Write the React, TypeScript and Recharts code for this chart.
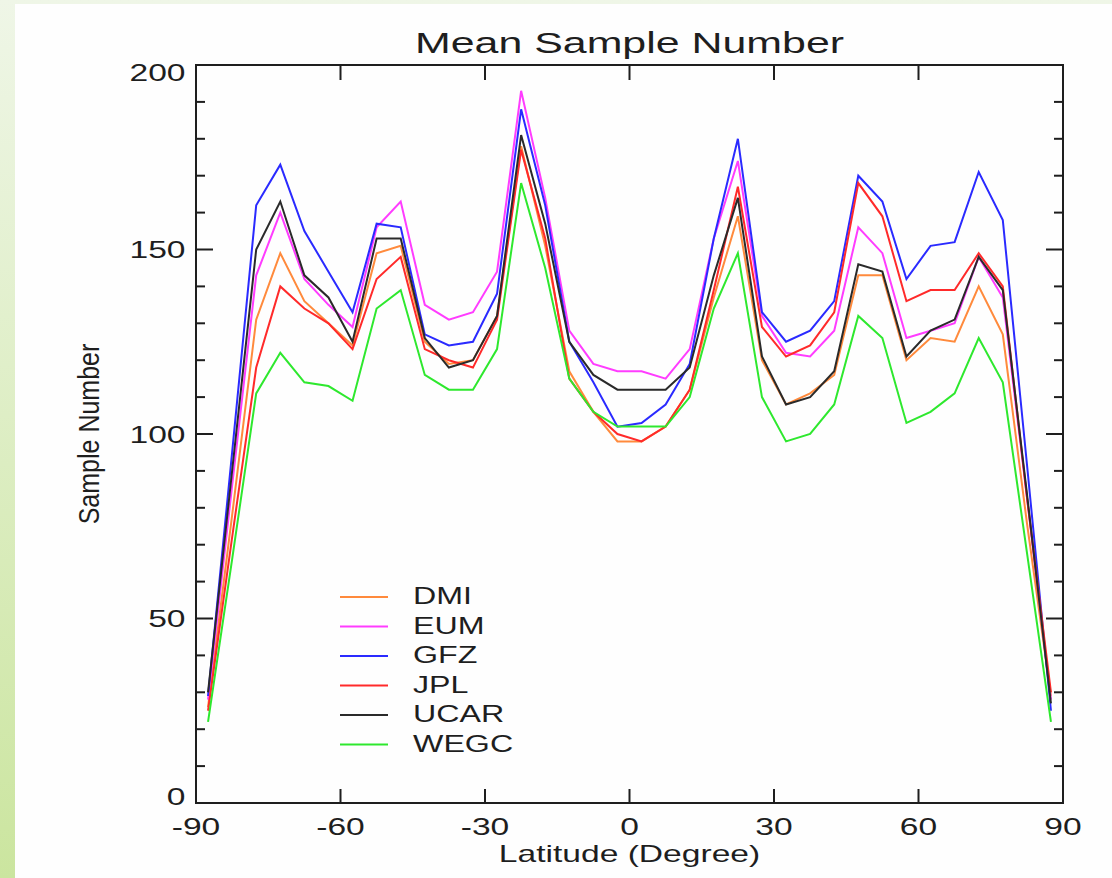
import React from 'react';
import { LineChart, Line, XAxis, YAxis, Legend, ReferenceArea } from 'recharts';

// latitude bin centres (deg)
const latitudes = [
  -87.5, -82.5, -77.5, -72.5, -67.5, -62.5, -57.5, -52.5, -47.5, -42.5, -37.5, -32.5,
  -27.5, -22.5, -17.5, -12.5, -7.5, -2.5, 2.5, 7.5, 12.5, 17.5, 22.5, 27.5,
  32.5, 37.5, 42.5, 47.5, 52.5, 57.5, 62.5, 67.5, 72.5, 77.5, 82.5, 87.5,
];

const dmi = [
  26, 78, 131, 149, 136, 130, 124, 149, 151, 125, 119, 120,
  132, 178, 151, 117, 106, 98, 98, 102, 112, 137, 159, 120,
  108, 111, 116, 143, 143, 120, 126, 125, 140, 127, 76, 29,
];
const eum = [
  28, 86, 143, 160, 142, 135, 129, 156, 163, 135, 131, 133,
  144, 193, 164, 128, 119, 117, 117, 115, 123, 153, 174, 132,
  122, 121, 128, 156, 149, 126, 128, 130, 148, 137, 83, 28,
];
const gfz = [
  29, 95, 162, 173, 155, 144, 133, 157, 156, 127, 124, 125,
  138, 188, 162, 125, 114, 102, 103, 108, 119, 153, 180, 133,
  125, 128, 136, 170, 163, 142, 151, 152, 171, 158, 92, 25,
];
const jpl = [
  25, 72, 118, 140, 134, 130, 123, 142, 148, 123, 120, 118,
  131, 177, 153, 115, 106, 100, 98, 102, 112, 139, 167, 129,
  121, 124, 133, 168, 159, 136, 139, 139, 149, 140, 83, 30,
];
const ucar = [
  30, 90, 150, 163, 143, 137, 125, 153, 153, 126, 118, 120,
  132, 181, 157, 125, 116, 112, 112, 112, 118, 143, 164, 121,
  108, 110, 117, 146, 144, 121, 128, 131, 148, 139, 84, 27,
];
const wegc = [
  22, 66, 111, 122, 114, 113, 109, 134, 139, 116, 112, 112,
  123, 168, 145, 115, 106, 102, 102, 102, 110, 134, 149, 110,
  98, 100, 108, 132, 126, 103, 106, 111, 126, 114, 68, 22,
];

const xTicks = [-90, -60, -30, 0, 30, 60, 90];
const yTicks = [0, 10, 20, 30, 40, 50, 60, 70, 80, 90, 100, 110, 120, 130, 140, 150, 160, 170, 180, 190, 200];

const series = [
  { key: 'DMI', values: dmi, color: '#ff8a3c' },
  { key: 'EUM', values: eum, color: '#ff3cff' },
  { key: 'GFZ', values: gfz, color: '#2a2aff' },
  { key: 'JPL', values: jpl, color: '#ff2a2a' },
  { key: 'UCAR', values: ucar, color: '#2a2a2a' },
  { key: 'WEGC', values: wegc, color: '#2ee82e' },
];

const rows = latitudes.map((lat, i) => {
  const row: Record<string, number> = { lat };
  series.forEach((s) => (row[s.key] = s.values[i]));
  return row;
});

const PLOT = { left: 196, top: 65, right: 1063, bottom: 803 };
const Y_AXIS_W = 60;
const X_AXIS_H = 60;
const FONT = '"Liberation Sans", Arial, Helvetica, sans-serif';
const INK = '#1e1e1e';

const XTick = (props: any) => {
  const { x, y, payload } = props;
  const v = payload.value;
  const edge = v === -90 || v === 90;
  return (
    <g>
      {!edge && (
        <>
          <line x1={x} y1={PLOT.bottom} x2={x} y2={PLOT.bottom - 14} stroke={INK} strokeWidth={2} />
          <line x1={x} y1={PLOT.top} x2={x} y2={PLOT.top + 15} stroke={INK} strokeWidth={2} />
        </>
      )}
      <text
        transform={`translate(${x},${PLOT.bottom + 32}) scale(1.4,1)`}
        textAnchor="middle"
        fontSize={24}
        fontFamily={FONT}
        fill={INK}
      >
        {v}
      </text>
    </g>
  );
};

const YTick = (props: any) => {
  const { y, payload } = props;
  const x = PLOT.left;
  const v = payload.value;
  const major = v % 50 === 0;
  const len = major ? 17 : 9;
  // IDL nudges the end labels inwards
  const adj = v === 200 ? 7 : v === 0 ? -7 : 0;
  return (
    <g>
      <line x1={x} y1={y} x2={x + len} y2={y} stroke={INK} strokeWidth={2} />
      <line x1={PLOT.right} y1={y} x2={PLOT.right - len} y2={y} stroke={INK} strokeWidth={2} />
      {major && (
        <text
          transform={`translate(${x - 10.5},${y + 8.5 + adj}) scale(1.4,1)`}
          textAnchor="end"
          fontSize={24}
          fontFamily={FONT}
          fill={INK}
        >
          {v}
        </text>
      )}
    </g>
  );
};

const XTitles = () => {
  const cx = (PLOT.left + PLOT.right) / 2;
  return (
    <g fontFamily={FONT} fill={INK}>
      <text transform={`translate(${cx},53) scale(1.43,1)`} textAnchor="middle" fontSize={30}>
        Mean Sample Number
      </text>
      <text transform={`translate(${cx},862) scale(1.4,1)`} textAnchor="middle" fontSize={24}>
        Latitude (Degree)
      </text>
    </g>
  );
};

const YTitle = () => {
  const cy = (PLOT.top + PLOT.bottom) / 2;
  return (
    <text
      transform={`translate(99,${cy}) scale(1.15,1) rotate(-90)`}
      textAnchor="middle"
      fontSize={25}
      fontFamily={FONT}
      fill={INK}
    >
      Sample Number
    </text>
  );
};

const LegendBox = (props: any) => {
  const items = props.payload || [];
  return (
    <svg width={260} height={190}>
      {items.map((it: any, i: number) => {
        const ly = 14 + i * 29.5;
        return (
          <g key={it.value}>
            <line x1={0} y1={ly} x2={48} y2={ly} stroke={it.color} strokeWidth={2} />
            <text
              transform={`translate(73,${ly + 7}) scale(1.4,1)`}
              fontSize={23}
              fontFamily={FONT}
              fill={INK}
            >
              {it.value}
            </text>
          </g>
        );
      })}
    </svg>
  );
};

export default function App() {
  return (
    <div
      style={{
        position: 'absolute',
        left: 0,
        top: 0,
        width: 1112,
        height: 878,
        background: 'linear-gradient(to bottom, #eff6e7, #cbe59f)',
        overflow: 'hidden',
      }}
    >
      <div style={{ position: 'absolute', left: 15, top: 4, width: 1097, height: 874, background: '#fefefe' }} />
      <div style={{ position: 'absolute', left: 0, top: 0 }}>
        <LineChart
          width={1112}
          height={878}
          data={rows}
          margin={{
            top: PLOT.top,
            right: 1112 - PLOT.right,
            bottom: 878 - PLOT.bottom - X_AXIS_H,
            left: PLOT.left - Y_AXIS_W,
          }}
        >
          <XAxis
            dataKey="lat"
            type="number"
            domain={[-90, 90]}
            ticks={xTicks}
            interval={0}
            height={X_AXIS_H}
            axisLine={false}
            tickLine={false}
            tickSize={0}
            tickMargin={0}
            tick={<XTick />}
            label={<XTitles />}
          />
          <YAxis
            type="number"
            domain={[0, 200]}
            ticks={yTicks}
            interval={0}
            width={Y_AXIS_W}
            axisLine={false}
            tickLine={false}
            tickSize={0}
            tickMargin={0}
            tick={<YTick />}
            label={<YTitle />}
          />
          <ReferenceArea x1={-90} x2={90} y1={0} y2={200} fill="none" stroke={INK} strokeWidth={2} />
          <Legend
            layout="vertical"
            align="center"
            verticalAlign="middle"
            content={<LegendBox />}
            wrapperStyle={{ left: 340, top: 583, width: 260, height: 190 }}
          />
          {series.map((s) => (
            <Line
              key={s.key}
              type="linear"
              dataKey={s.key}
              name={s.key}
              stroke={s.color}
              strokeWidth={2}
              dot={false}
              isAnimationActive={false}
            />
          ))}
        </LineChart>
      </div>
    </div>
  );
}
